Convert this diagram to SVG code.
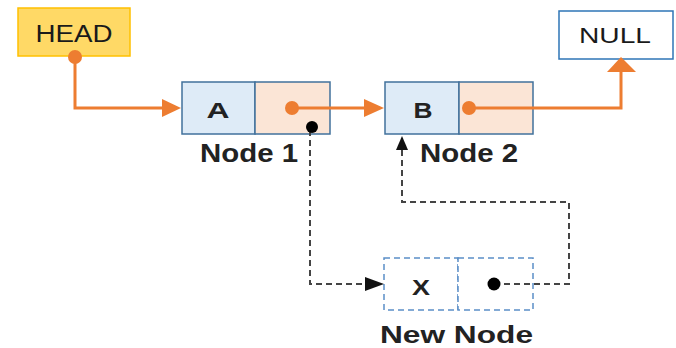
<svg xmlns="http://www.w3.org/2000/svg" width="676" height="348" viewBox="0 0 676 348">
  <defs>
    <style>
      .lbl { font-family: "Liberation Sans", Arial, sans-serif; fill: #1a1a1a; }
      .cap { font-family: "Liberation Sans", Arial, sans-serif; font-weight: bold; fill: #222; }
      .data { fill: #DEEBF7; stroke: #41719C; stroke-width: 1.5; }
      .ptr { fill: #FBE5D6; stroke: #41719C; stroke-width: 1.5; }
      .newcell { fill: #fff; stroke: #5B8FC7; stroke-width: 1.5; stroke-dasharray: 6 4; }
      .orange { fill: none; stroke: #ED7D31; stroke-width: 3; }
      .dash { fill: none; stroke: #444; stroke-width: 2; stroke-dasharray: 6 4; }
    </style>
  </defs>

  <!-- HEAD pointer -->
  <g id="head">
    <rect x="18" y="8" width="112" height="48" fill="#FFD966" stroke="#FFC000" stroke-width="1.5"/>
    <text class="lbl" x="74" y="42" text-anchor="middle" font-size="23" textLength="77" lengthAdjust="spacingAndGlyphs">HEAD</text>
  </g>

  <!-- NULL terminator -->
  <g id="null">
    <rect x="559" y="11" width="114" height="48" fill="#fff" stroke="#2E75B6" stroke-width="1.5"/>
    <text class="lbl" x="615" y="43" text-anchor="middle" font-size="22" textLength="72" lengthAdjust="spacingAndGlyphs">NULL</text>
  </g>

  <!-- Node 1 -->
  <g id="node1">
    <rect class="data" x="182" y="82" width="73" height="52"/>
    <rect class="ptr" x="255" y="82" width="75" height="52"/>
    <text class="cap" x="218" y="118" text-anchor="middle" font-size="22" textLength="23" lengthAdjust="spacingAndGlyphs">A</text>
    <text class="cap" x="200" y="162" font-size="25" textLength="98" lengthAdjust="spacingAndGlyphs">Node 1</text>
  </g>

  <!-- Node 2 -->
  <g id="node2">
    <rect class="data" x="385" y="82" width="74" height="52"/>
    <rect class="ptr" x="459" y="82" width="74" height="52"/>
    <text class="cap" x="423" y="118" text-anchor="middle" font-size="22" textLength="19" lengthAdjust="spacingAndGlyphs">B</text>
    <text class="cap" x="420" y="162" font-size="25" textLength="98" lengthAdjust="spacingAndGlyphs">Node 2</text>
  </g>

  <!-- New node being inserted -->
  <g id="newnode">
    <rect class="newcell" x="384" y="258" width="74" height="52"/>
    <rect class="newcell" x="458" y="258" width="75" height="52"/>
    <text class="cap" x="421" y="295" text-anchor="middle" font-size="22" textLength="18" lengthAdjust="spacingAndGlyphs">X</text>
    <text class="cap" x="380" y="343" font-size="24" textLength="153" lengthAdjust="spacingAndGlyphs">New Node</text>
  </g>

  <!-- Connectors -->
  <g id="connectors">
    <!-- HEAD -> Node 1 -->
    <path class="orange" d="M75,57 V108 H170"/>
    <path d="M162,99 L181,108 L162,117 Z" fill="#ED7D31"/>
    <circle cx="75" cy="57" r="7" fill="#ED7D31"/>

    <!-- Node 1 -> Node 2 -->
    <path class="orange" d="M292,108 H372"/>
    <path d="M364,99 L384,108 L364,117 Z" fill="#ED7D31"/>
    <circle cx="292" cy="108" r="7" fill="#ED7D31"/>

    <!-- Node 2 -> NULL -->
    <path class="orange" d="M469,108 H621 V70"/>
    <path d="M607,72 L621,57 L636,72 Z" fill="#ED7D31"/>
    <circle cx="469" cy="108" r="7" fill="#ED7D31"/>

    <!-- Node 1 next -> New node (dashed) -->
    <path class="dash" d="M310,130 V284 H372"/>
    <path d="M365,277 L384,284 L365,291 Z" fill="#111"/>
    <circle cx="312" cy="127" r="6" fill="#000"/>

    <!-- New node next -> Node 2 (dashed) -->
    <path class="dash" d="M494,284 H569 V202 H402 V148"/>
    <path d="M396,150 L402,136 L408,150 Z" fill="#111"/>
    <circle cx="494" cy="284" r="6.5" fill="#000"/>
  </g>
</svg>
